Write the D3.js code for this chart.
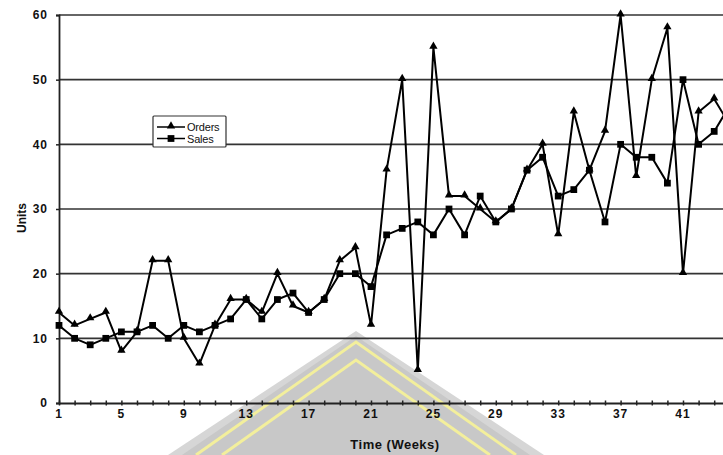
<!DOCTYPE html>
<html><head><meta charset="utf-8">
<script src="https://cdn.jsdelivr.net/npm/d3@7"></script>
<style>
html,body{margin:0;padding:0;background:#fff;overflow:hidden;}
text{font-family:"Liberation Sans",Arial,Helvetica,sans-serif;fill:#111;}
</style></head>
<body>
<script>
const weeks = d3.range(1, 45);
const orders = [14,12,13,14,8,11,22,22,10,6,12,16,16,14,20,15,14,16,22,24,12,36,50,5,55,32,32,30,28,30,36,40,26,45,36,42,60,35,50,58,20,45,47,43];
const sales  = [12,10,9,10,11,11,12,10,12,11,12,13,16,13,16,17,14,16,20,20,18,26,27,28,26,30,26,32,28,30,36,38,32,33,36,28,40,38,38,34,50,40,42,46];
const xTickLabels = [1,5,9,13,17,21,25,29,33,37,41];
const yTickValues = [0,10,20,30,40,50,60];
const seriesNames = ["Orders","Sales"];

const W = 723, H = 455;
const svg = d3.select("body").append("svg").attr("width", W).attr("height", H);

const x = d3.scaleLinear().domain([1, 44]).range([59, 729.8]);
const y = d3.scaleLinear().domain([0, 60]).range([403, 15]);

// watermark (decorative, under chart)
const wm = svg.append("g");
wm.append("path").attr("d","M168,455 L356,331 L544,455 Z").attr("fill","#d6d6d6");
wm.append("path").attr("d","M182,455 L356,336 L530,455 Z").attr("fill","#c8c8c8");
wm.append("path").attr("d","M196,455 L356,342 L516,455").attr("fill","none").attr("stroke","#f3ef9c").attr("stroke-width",3);
wm.append("path").attr("d","M222,455 L356,360 L490,455").attr("fill","none").attr("stroke","#f3ef9c").attr("stroke-width",3);

// gridlines
svg.append("g").selectAll("line").data(yTickValues.filter(d => d > 0)).join("line")
  .attr("x1", x(1)).attr("x2", W).attr("y1", d => y(d)).attr("y2", d => y(d))
  .attr("stroke", "#333").attr("stroke-width", 1.6);

// y axis
const yAxis = svg.append("g").attr("transform", `translate(${x(1)},0)`)
  .call(d3.axisLeft(y).tickValues(yTickValues).tickSize(3).tickPadding(8));
yAxis.select(".domain").attr("stroke","#222").attr("stroke-width",1.8);
yAxis.selectAll(".tick line").attr("stroke","#222").attr("stroke-width",1.5);
yAxis.selectAll(".tick text").attr("font-size",12).attr("font-weight","bold")
  .attr("letter-spacing",1).style("font-family","'Liberation Sans',Arial,sans-serif").attr("fill","#111");

// x axis
const xAxis = svg.append("g").attr("transform", `translate(0,${y(0)})`)
  .call(d3.axisBottom(x).tickValues(weeks).tickSize(0).tickFormat(""));
xAxis.select(".domain").attr("stroke","#222").attr("stroke-width",1.8);
xAxis.selectAll(".tick line").attr("y1",-2.5).attr("y2",2.5).attr("stroke","#222").attr("stroke-width",1.5);
xAxis.selectAll(".tick").filter(d => d >= 44).remove();
svg.append("g").selectAll("text").data(xTickLabels).join("text")
  .attr("x", d => x(d)).attr("y", y(0) + 15).attr("text-anchor","middle")
  .attr("font-size",12).attr("font-weight","bold").attr("letter-spacing",1)
  .text(d => d);

// axis titles
svg.append("text").attr("x", 395).attr("y", 449).attr("text-anchor","middle")
  .attr("font-size",13).attr("font-weight","bold").attr("letter-spacing",0.5).text("Time (Weeks)");
svg.append("text").attr("transform","translate(26,218) rotate(-90)").attr("text-anchor","middle")
  .attr("font-size",12).attr("font-weight","bold").text("Units");

// lines
const line = d3.line().x((d,i) => x(weeks[i])).y(d => y(d));
const tri = d3.symbol().type(d3.symbolTriangle).size(30);
const sq = d3.symbol().type(d3.symbolSquare).size(46);

[sales, orders].forEach((vals) => {
  svg.append("path").datum(vals).attr("d", line).attr("fill","none")
    .attr("stroke","#000").attr("stroke-width",2).attr("stroke-linejoin","round");
});
svg.append("g").selectAll("path").data(sales).join("path")
  .attr("transform",(d,i) => `translate(${x(weeks[i])},${y(d)})`).attr("d", sq).attr("fill","#000");
svg.append("g").selectAll("path").data(orders).join("path")
  .attr("transform",(d,i) => `translate(${x(weeks[i])},${y(d)-1})`).attr("d", tri).attr("fill","#000");

// legend
const lg = svg.append("g");
lg.append("rect").attr("x",153).attr("y",116).attr("width",73).attr("height",31)
  .attr("fill","#fff").attr("stroke","#333").attr("stroke-width",1.2).attr("rx",1);
seriesNames.forEach((name, i) => {
  const cy = 127 + i * 11.5;
  lg.append("line").attr("x1",157).attr("x2",185).attr("y1",cy).attr("y2",cy).attr("stroke","#000").attr("stroke-width",1.5);
  lg.append("path").attr("transform",`translate(171,${cy - (i===0?1:0)})`).attr("d", i===0 ? tri : sq).attr("fill","#000");
  lg.append("text").attr("x",187).attr("y",cy+4).attr("font-size",11).attr("letter-spacing",-0.2).text(name);
});
</script>
</body></html>
